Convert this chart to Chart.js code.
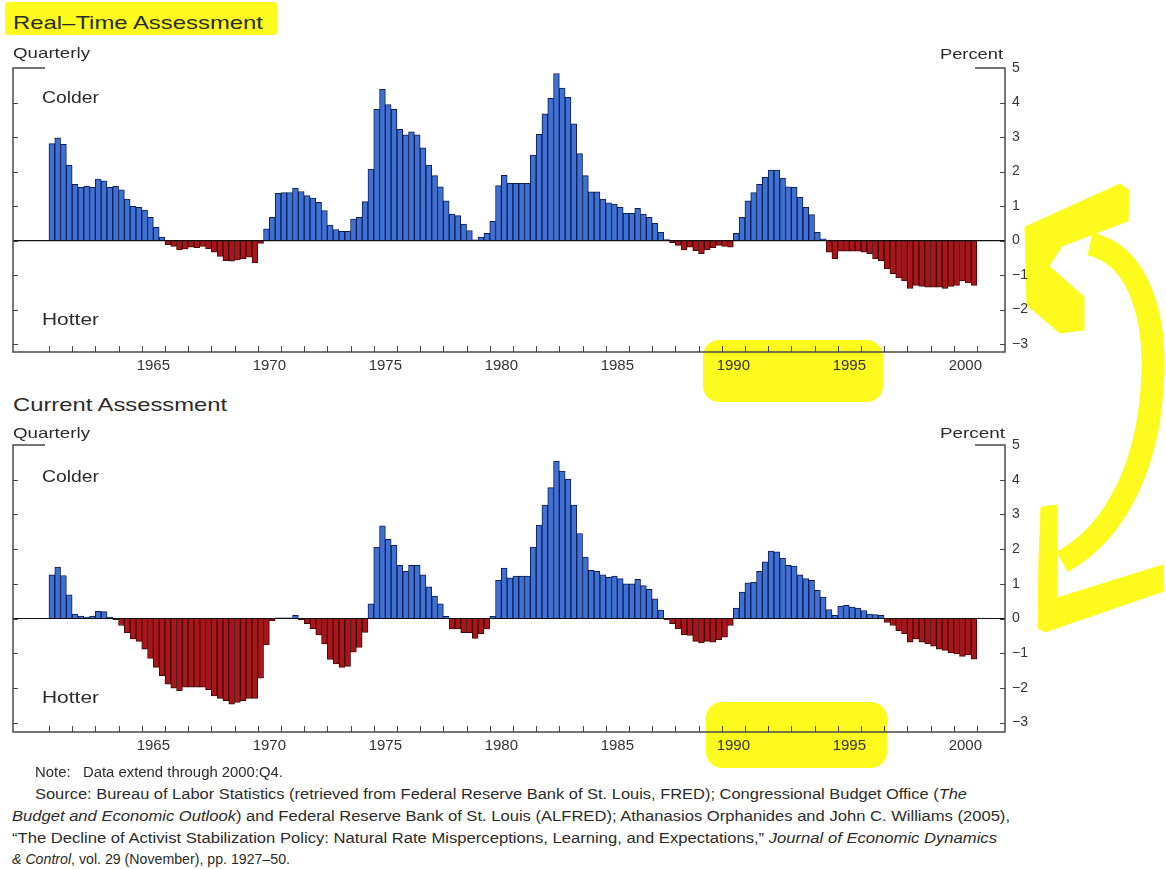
<!DOCTYPE html>
<html><head><meta charset="utf-8">
<script src="https://cdn.jsdelivr.net/npm/chart.js@4.4.1/dist/chart.umd.min.js"></script>
<style>
html,body{margin:0;padding:0;background:#fff;}
body{width:1166px;height:869px;position:relative;overflow:hidden;font-family:'Liberation Sans',Arial,Helvetica,sans-serif;color:#2b2b2b;}
.t{position:absolute;white-space:nowrap;line-height:1;transform-origin:0 0;}
.hl{position:absolute;background:#fdfb1e;}
canvas{position:absolute;left:0;}
i{font-style:italic;}
</style></head><body>
<div class="hl" style="left:5px;top:2px;width:272px;height:33px;border-radius:3px"></div>
<div class="hl" style="left:703px;top:340px;width:180px;height:62px;border-radius:16px"></div>
<div class="hl" style="left:706px;top:702px;width:181px;height:66px;border-radius:16px"></div>
<svg style="position:absolute;left:0;top:0" width="1166" height="869">
  <g fill="#fdfb1e" stroke="#fdfb1e" stroke-linejoin="round">
    <polygon points="1025,227 1120,184 1129,190 1128,221 1062,246 1049,266 1084,297 1084,330 1060,333 1027,305"/>
    <path d="M1090,244 C1140,255 1158,320 1152,390 C1147,460 1120,530 1062,562" fill="none" stroke-width="23"/>
    <polygon points="1041,507 1057,505 1057,598 1163,565 1164,591 1045,632 1038,628 1039,560"/>
  </g>
</svg>
<canvas id="c1" width="1166" height="345" style="top:40px;width:1166px;height:345px"></canvas>
<canvas id="c2" width="1166" height="345" style="top:420px;width:1166px;height:345px"></canvas>

<div class="t" data-w="250" style="left:13px;top:13px;font-size:19px">Real–Time Assessment</div>
<div class="t" data-w="77" style="left:13px;top:44.5px;font-size:15px">Quarterly</div>
<div class="t" data-w="63" style="left:940px;top:45.5px;font-size:15px">Percent</div>
<div class="t" data-w="57" style="left:42px;top:89.5px;font-size:16px">Colder</div>
<div class="t" data-w="57" style="left:42px;top:311.5px;font-size:16px">Hotter</div>

<div class="t" data-w="214" style="left:13px;top:395px;font-size:19px">Current Assessment</div>
<div class="t" data-w="77" style="left:13px;top:425.3px;font-size:15px">Quarterly</div>
<div class="t" data-w="65" style="left:940px;top:425.3px;font-size:15px">Percent</div>
<div class="t" data-w="57" style="left:42px;top:468.5px;font-size:16px">Colder</div>
<div class="t" data-w="57" style="left:42px;top:689.5px;font-size:16px">Hotter</div>

<div class="t" data-w="248" style="left:35px;top:765px;font-size:14px">Note:&nbsp;&nbsp;&nbsp;Data extend through 2000:Q4.</div>
<div class="t" data-w="932" style="left:35px;top:787px;font-size:14px">Source: Bureau of Labor Statistics (retrieved from Federal Reserve Bank of St. Louis, FRED); Congressional Budget Office (<i>The</i></div>
<div class="t" data-w="998" style="left:12px;top:809px;font-size:14px"><i>Budget and Economic Outlook</i>) and Federal Reserve Bank of St. Louis (ALFRED); Athanasios Orphanides and John C. Williams (2005),</div>
<div class="t" data-w="985" style="left:12px;top:831px;font-size:14px">“The Decline of Activist Stabilization Policy: Natural Rate Misperceptions, Learning, and Expectations,” <i>Journal of Economic Dynamics</i></div>
<div class="t" data-w="278" style="left:12px;top:852px;font-size:14px"><i>&amp; Control</i>, vol. 29 (November), pp. 1927–50.</div>

<script>
// ---------- data ----------
const years = [1961,1962,1963,1964,1965,1966,1967,1968,1969,1970,
               1971,1972,1973,1974,1975,1976,1977,1978,1979,1980,
               1981,1982,1983,1984,1985,1986,1987,1988,1989,1990,
               1991,1992,1993,1994,1995,1996,1997,1998,1999,2000];
const quarters = ['Q1','Q2','Q3','Q4'];

// Real-time assessment (percent), quarterly 1961:Q1 - 2000:Q4
const realTime = [
  2.81, 2.98, 2.79, 2.19,   // 1961
  1.63, 1.54, 1.57, 1.54,   // 1962
  1.78, 1.73, 1.54, 1.57,   // 1963
  1.47, 1.20, 0.99, 0.96,   // 1964
  0.88, 0.67, 0.38, 0.10,   // 1965
  -0.12, -0.17, -0.27, -0.24, // 1966
  -0.19, -0.21, -0.17, -0.24, // 1967
  -0.34, -0.46, -0.58, -0.60, // 1968
  -0.56, -0.53, -0.48, -0.65, // 1969
  -0.08, 0.34, 0.67, 1.37,  // 1970
  1.39, 1.39, 1.52, 1.42,   // 1971
  1.30, 1.23, 1.11, 0.87,   // 1972
  0.45, 0.32, 0.27, 0.27,   // 1973
  0.62, 0.67, 1.13, 2.07,   // 1974
  3.80, 4.38, 3.94, 3.80,   // 1975
  3.22, 3.06, 3.15, 3.06,   // 1976
  2.69, 2.19, 1.88, 1.56,   // 1977
  1.15, 0.77, 0.72, 0.48,   // 1978
  0.29, 0.02, 0.10, 0.21,   // 1979
  0.56, 1.59, 1.89, 1.66,   // 1980
  1.66, 1.66, 1.66, 2.48,   // 1981
  3.08, 3.67, 4.12, 4.84,   // 1982
  4.42, 4.15, 3.38, 2.52,   // 1983
  1.88, 1.41, 1.41, 1.20,   // 1984
  1.09, 1.06, 0.96, 0.79,   // 1985
  0.79, 0.93, 0.77, 0.67,   // 1986
  0.50, 0.24, 0.03, -0.06,  // 1987
  -0.14, -0.27, -0.19, -0.29, // 1988
  -0.38, -0.27, -0.21, -0.14, // 1989
  -0.17, -0.19, 0.21, 0.67, // 1990
  1.15, 1.39, 1.63, 1.83,   // 1991
  2.04, 2.04, 1.81, 1.56,   // 1992
  1.54, 1.25, 0.96, 0.75,   // 1993
  0.24, 0.05, -0.34, -0.53, // 1994
  -0.31, -0.31, -0.31, -0.31, // 1995
  -0.34, -0.38, -0.53, -0.58, // 1996
  -0.82, -0.96, -1.08, -1.17, // 1997
  -1.39, -1.30, -1.33, -1.35, // 1998
  -1.35, -1.35, -1.39, -1.33, // 1999
  -1.30, -1.17, -1.23, -1.30  // 2000
];

// Current assessment (percent), quarterly 1961:Q1 - 2000:Q4
const current = [
  1.26, 1.48, 1.24, 0.68,   // 1961
  0.13, 0.07, 0.04, 0.07,   // 1962
  0.21, 0.20, 0.04, -0.03,  // 1963
  -0.20, -0.41, -0.59, -0.66, // 1964
  -0.88, -1.15, -1.41, -1.65, // 1965
  -1.89, -2.01, -2.08, -1.98, // 1966
  -1.98, -1.98, -1.98, -2.05, // 1967
  -2.23, -2.30, -2.37, -2.47, // 1968
  -2.42, -2.37, -2.30, -2.30, // 1969
  -1.72, -0.76, -0.06, 0.02,  // 1970
  0.02, 0.02, 0.09, -0.03,  // 1971
  -0.15, -0.30, -0.47, -0.73, // 1972
  -1.18, -1.31, -1.41, -1.38, // 1973
  -0.97, -0.83, -0.40, 0.42,  // 1974
  2.06, 2.67, 2.28, 2.11,   // 1975
  1.53, 1.36, 1.53, 1.53,   // 1976
  1.26, 0.91, 0.65, 0.42,   // 1977
  0.06, -0.30, -0.30, -0.41,  // 1978
  -0.41, -0.57, -0.44, -0.30, // 1979
  0.06, 1.10, 1.45, 1.17,   // 1980
  1.22, 1.22, 1.22, 2.06,   // 1981
  2.69, 3.27, 3.77, 4.54,   // 1982
  4.25, 4.02, 3.27, 2.45,   // 1983
  1.77, 1.39, 1.36, 1.26,   // 1984
  1.19, 1.22, 1.15, 1.00,   // 1985
  1.00, 1.13, 0.95, 0.84,   // 1986
  0.57, 0.24, -0.04, -0.15, // 1987
  -0.30, -0.47, -0.49, -0.66, // 1988
  -0.70, -0.66, -0.68, -0.61, // 1989
  -0.54, -0.20, 0.30, 0.76, // 1990
  1.03, 1.05, 1.36, 1.63,   // 1991
  1.94, 1.92, 1.74, 1.53,   // 1992
  1.51, 1.26, 1.15, 1.10,   // 1993
  0.81, 0.62, 0.26, 0.09,   // 1994
  0.36, 0.38, 0.33, 0.30,   // 1995
  0.23, 0.13, 0.11, 0.09,   // 1996
  -0.11, -0.20, -0.35, -0.44, // 1997
  -0.68, -0.59, -0.68, -0.73, // 1998
  -0.80, -0.88, -0.92, -0.99, // 1999
  -1.02, -1.09, -1.05, -1.17  // 2000
];

const xTickLabels = ['1965','1970','1975','1980','1985','1990','1995','2000'];
const yTickValues = [-3,-2,-1,0,1,2,3,4,5];
const yTickLabels = ['\u22123','\u22122','\u22121','0','1','2','3','4','5'];

// ---------- styling ----------
const BLUE = '#3f70d3', BLUE_B = '#0f1d55';
const RED = '#a8161b', RED_B = '#420808';
const FONT = "'Liberation Sans', Arial, Helvetica, sans-serif";

function toPoints(values) {
  const pts = [];
  years.forEach((yr, yi) => {
    quarters.forEach((q, qi) => {
      const v = values[yi * 4 + qi];
      pts.push({ x: yr + (qi + 0.5) / 4, y: v, label: yr + ':' + q });
    });
  });
  return pts;
}

const framePlugin = {
  id: 'frame',
  afterDatasetsDraw(chart) {
    const { ctx, chartArea: a, scales } = chart;
    const x = scales.x, y = scales.y;
    ctx.save();
    // zero line
    const y0 = y.getPixelForValue(0);
    ctx.strokeStyle = '#111';
    ctx.lineWidth = 1.2;
    ctx.beginPath(); ctx.moveTo(a.left, y0); ctx.lineTo(a.right, y0); ctx.stroke();
    // frame
    ctx.strokeStyle = '#4a4a4a';
    ctx.lineWidth = 1.5;
    ctx.beginPath();
    ctx.moveTo(a.left + 32, a.top); ctx.lineTo(a.left, a.top); ctx.lineTo(a.left, a.bottom);
    ctx.lineTo(a.right, a.bottom); ctx.lineTo(a.right, a.top); ctx.lineTo(a.right - 30, a.top);
    ctx.stroke();
    // tick marks (inward)
    ctx.lineWidth = 1;
    ctx.strokeStyle = '#444';
    ctx.beginPath();
    yTickValues.forEach(v => {
      if (v >= 5) return;
      const py = Math.round(y.getPixelForValue(v)) + 0.5;
      ctx.moveTo(a.left, py); ctx.lineTo(a.left + 5, py);
      ctx.moveTo(a.right, py); ctx.lineTo(a.right - 5, py);
    });
    years.concat([years[years.length - 1] + 1]).forEach(yr => {
      const px = Math.round(x.getPixelForValue(yr)) + 0.5;
      ctx.moveTo(px, a.bottom); ctx.lineTo(px, a.bottom - 6);
    });
    ctx.stroke();
    ctx.restore();
  }
};

function makeChart(id, values, padTop, yMin, labelPad) {
  return new Chart(document.getElementById(id), {
    type: 'bar',
    data: {
      datasets: [{
        data: toPoints(values),
        backgroundColor: c => (c.raw && c.raw.y < 0) ? RED : BLUE,
        borderColor: c => (c.raw && c.raw.y < 0) ? RED_B : BLUE_B,
        borderWidth: 1,
        borderSkipped: 'start',
        categoryPercentage: 1.0,
        barPercentage: 1.0
      }]
    },
    options: {
      responsive: false,
      animation: false,
      devicePixelRatio: 1,
      layout: { padding: { left: 13, right: 131, top: padTop, bottom: 0 } },
      plugins: { legend: { display: false }, tooltip: { enabled: false } },
      scales: {
        x: {
          type: 'linear',
          offset: false,
          min: 1959.45,
          max: 2002.21,
          grid: { display: false, drawTicks: false },
          border: { display: false },
          afterBuildTicks: s => { s.ticks = xTickLabels.map(l => ({ value: Number(l) + 0.5 })); },
          afterFit: s => { s.height = 33; },
          ticks: {
            autoSkip: false, maxRotation: 0, padding: labelPad,
            color: '#333', font: { family: FONT, size: 15 },
            callback: (v, i) => xTickLabels[i]
          }
        },
        y: {
          position: 'right',
          min: yMin,
          max: 5,
          grid: { display: false, drawTicks: false },
          border: { display: false },
          afterBuildTicks: s => { s.ticks = yTickValues.map(v => ({ value: v })); },
          afterFit: s => { s.width = 30; },
          ticks: {
            padding: 7, color: '#333', font: { family: FONT, size: 14 },
            callback: (v, i) => yTickLabels[i]
          }
        }
      }
    },
    plugins: [framePlugin]
  });
}

makeChart('c1', realTime, 28, -3.23, 5);
makeChart('c2', current, 25, -3.27, 5);

// fit text widths
document.querySelectorAll('[data-w]').forEach(el => {
  const w = el.getBoundingClientRect().width;
  const target = Number(el.getAttribute('data-w'));
  if (w > 0) el.style.transform = 'scaleX(' + (target / w) + ')';
});
</script>
</body></html>
